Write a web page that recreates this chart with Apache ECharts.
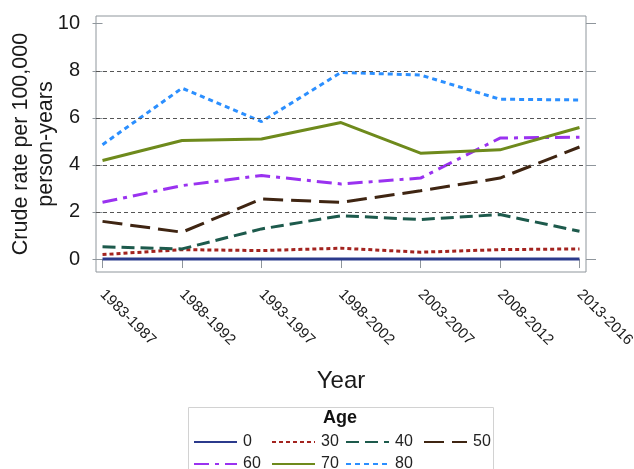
<!DOCTYPE html>
<html>
<head>
<meta charset="utf-8">
<script src="https://cdn.jsdelivr.net/npm/echarts@6/dist/echarts.min.js"></script>
<style>
  html, body { margin: 0; padding: 0; background: #fff; }
  #chart { width: 634px; height: 469px; }
</style>
</head>
<body>
<div id="chart"></div>
<script>
// Periods on the horizontal axis
const periods = ['1983-1987', '1988-1992', '1993-1997', '1998-2002', '2003-2007', '2008-2012', '2013-2016'];

// Crude rate per 100,000 person-years, by age group
const age0  = [0, 0, 0, 0, 0, 0, 0];
const age30 = [0.19, 0.40, 0.36, 0.46, 0.29, 0.40, 0.43];
const age40 = [0.52, 0.43, 1.28, 1.84, 1.68, 1.89, 1.18];
const age50 = [1.60, 1.14, 2.55, 2.41, 2.90, 3.44, 4.76];
const age60 = [2.41, 3.12, 3.55, 3.19, 3.44, 5.14, 5.18];
const age70 = [4.19, 5.04, 5.10, 5.80, 4.50, 4.64, 5.59];
const age80 = [4.86, 7.26, 5.84, 7.93, 7.82, 6.79, 6.76];

// Axis ticks and reference lines
const yTicks = [0, 2, 4, 6, 8, 10];
const refLines = [2, 4, 6, 8];

const FONT = "'Liberation Sans', Arial, Helvetica, sans-serif";
const FRAME = '#8f969c';

const groups = [
  { name: '0',  data: age0,  color: '#2b3a8c', type: 'solid' },
  { name: '30', data: age30, color: '#a3231f', type: [4, 3] },
  { name: '40', data: age40, color: '#1d5a4c', type: [13, 6] },
  { name: '50', data: age50, color: '#3f2512', type: [20, 8] },
  { name: '60', data: age60, color: '#9a32f0', type: [15, 6, 4, 6] },
  { name: '70', data: age70, color: '#6e8a1c', type: 'solid' },
  { name: '80', data: age80, color: '#2b8fff', type: [5, 4] }
];

const series = groups.map(g => ({
  name: g.name,
  type: 'line',
  data: g.data.map((v, i) => [i, v]),
  symbol: 'none',
  z: 3,
  color: g.color,
  lineStyle: { color: g.color, width: 3, type: g.type },
  emphasis: { disabled: true }
}));

// Dashed horizontal reference lines across the plot frame
series.unshift({
  name: 'ref',
  type: 'line',
  data: [],
  z: 1,
  silent: true,
  markLine: {
    silent: true,
    symbol: 'none',
    label: { show: false },
    lineStyle: { color: '#555', width: 1, type: [4, 3] },
    data: refLines.map(v => ({ yAxis: v }))
  }
});

// One vertical legend per column so the columns line up in a fixed grid
const legendBase = {
  orient: 'vertical',
  top: 434,
  height: 60,
  padding: 0,
  itemWidth: 43,
  itemHeight: 14,
  itemGap: 6,
  selectedMode: false,
  itemStyle: { opacity: 0 },
  textStyle: { fontFamily: FONT, fontSize: 16, color: '#222', padding: [0, 0, 0, 1] }
};

const chart = echarts.init(document.getElementById('chart'), null, { renderer: 'canvas' });

chart.setOption({
  animation: false,
  backgroundColor: '#fff',
  textStyle: { fontFamily: FONT },
  title: {
    text: 'Age',
    left: 323,
    top: 409,
    padding: 0,
    textStyle: { fontFamily: FONT, fontSize: 18, fontWeight: 'bold', color: '#111' }
  },
  legend: [
    Object.assign({}, legendBase, { left: 193, data: ['0', '60'] }),
    Object.assign({}, legendBase, { left: 271, data: ['30', '70'] }),
    Object.assign({}, legendBase, { left: 345, data: ['40', '80'] }),
    Object.assign({}, legendBase, { left: 423, data: ['50'] })
  ],
  graphic: [{
    type: 'rect',
    shape: { x: 188.5, y: 407.5, width: 305, height: 80 },
    style: { fill: 'none', stroke: '#d2d2d2', lineWidth: 1 },
    silent: true
  }],
  grid: {
    left: 96, top: 16, right: 48, bottom: 197,
    containLabel: false,
    outerBoundsMode: 'none',
    show: true,
    borderColor: FRAME,
    borderWidth: 1,
    backgroundColor: 'transparent'
  },
  xAxis: {
    type: 'value',
    min: -0.082,
    max: 6.082,
    axisLine: { show: false },
    splitLine: { show: false },
    axisTick: {
      show: true, inside: false, length: 9,
      customValues: periods.map((p, i) => i),
      lineStyle: { color: FRAME, width: 1 }
    },
    axisLabel: {
      customValues: periods.map((p, i) => i),
      rotate: -45,
      margin: 20,
      padding: [42, 0, 0, 0],
      fontSize: 15,
      color: '#1a1a1a',
      fontFamily: FONT,
      formatter: v => periods[Math.round(v)]
    },
    name: 'Year',
    nameLocation: 'middle',
    nameGap: 97,
    nameMoveOverlap: false,
    nameTextStyle: { fontSize: 24, color: '#1a1a1a', fontFamily: FONT }
  },
  yAxis: [{
    type: 'value',
    position: 'left',
    min: -0.551,
    max: 10.327,
    axisLine: { show: false },
    splitLine: { show: false },
    axisTick: {
      show: true, inside: false, length: 10,
      customValues: yTicks,
      lineStyle: { color: FRAME, width: 1 }
    },
    axisLabel: {
      customValues: yTicks,
      margin: 16,
      fontSize: 20,
      color: '#1a1a1a',
      fontFamily: FONT
    },
    name: 'Crude rate per 100,000\nperson-years',
    nameLocation: 'middle',
    nameGap: 37,
    nameMoveOverlap: false,
    nameRotate: 90,
    nameTextStyle: {
      fontSize: 21.5, lineHeight: 25, color: '#1a1a1a', fontFamily: FONT,
      align: 'center'
    }
  }, {
    type: 'value',
    position: 'right',
    min: -0.551,
    max: 10.327,
    axisLine: { show: false },
    splitLine: { show: false },
    axisTick: {
      show: true, inside: false, length: 10,
      customValues: yTicks,
      lineStyle: { color: FRAME, width: 1 }
    },
    axisLabel: { show: false }
  }],
  series: series
});
</script>
</body>
</html>
